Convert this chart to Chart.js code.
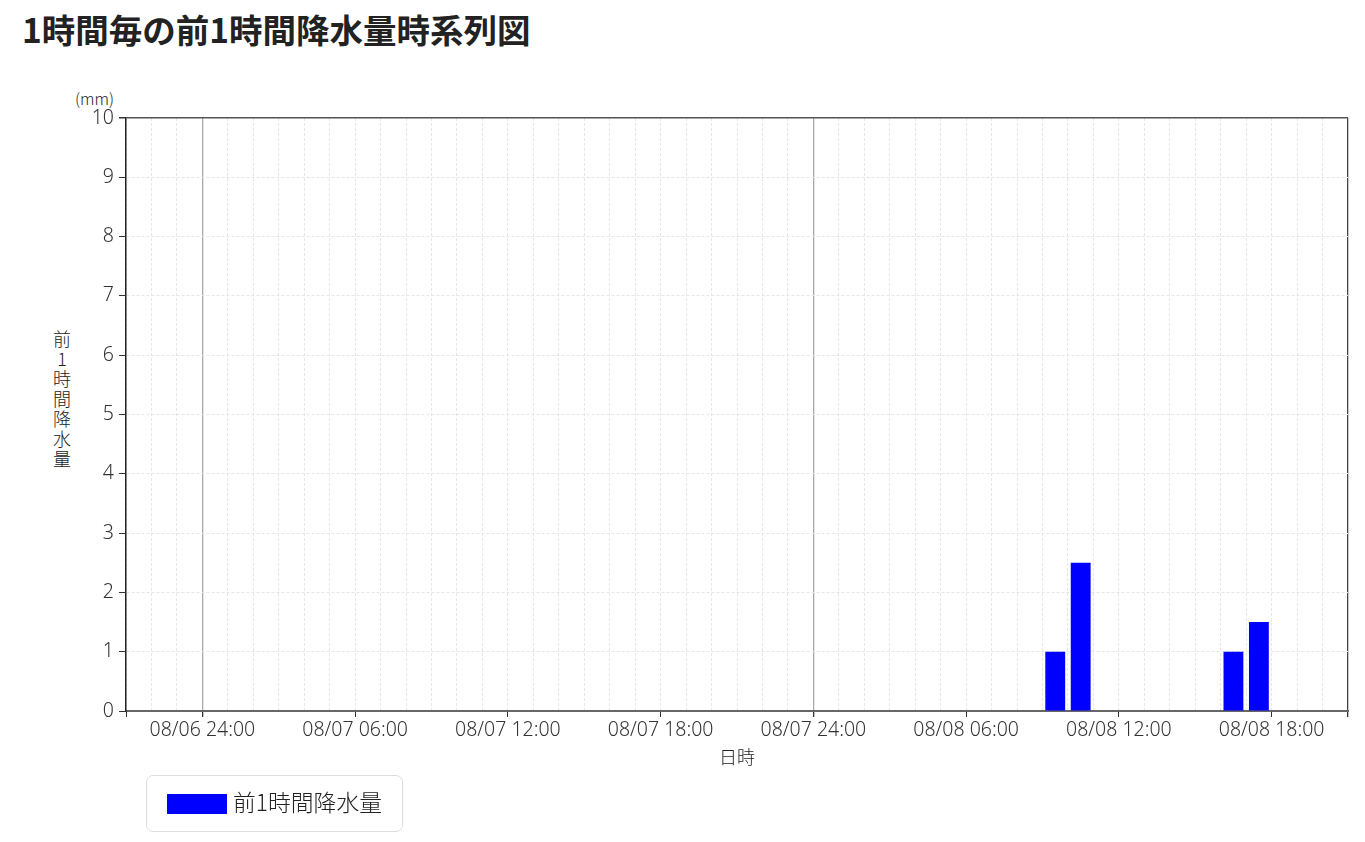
<!DOCTYPE html>
<html lang="ja">
<head>
<meta charset="utf-8">
<script src="https://cdn.jsdelivr.net/npm/chart.js@4/dist/chart.umd.min.js"></script>
<style>
  html, body { margin: 0; padding: 0; background: #fff; }
  body { font-family: "Noto Sans CJK JP", "Noto Sans", sans-serif; color: #222; }
  #wrap { position: relative; width: 1365px; height: 842px; overflow: hidden; }
  #chart { position: absolute; left: 0; top: 0; }
  h1 { position: absolute; left: 22px; top: 4px; margin: 0; font-size: 33.5px; font-weight: bold; color: #222; }
  #unit { position: absolute; left: 75px; top: 86px; font-size: 16px; font-weight: 300; color: #222; }
  #ylabel { position: absolute; left: 52px; top: 330px; writing-mode: vertical-rl; text-orientation: upright; font-size: 18px; font-weight: 300; line-height: 20px; color: #222; letter-spacing: 2px; }
  #legend { position: absolute; left: 146px; top: 775px; width: 257px; height: 57px; border: 1.5px solid #ddd; border-radius: 7px; box-sizing: border-box; }
  #legend .sw { position: absolute; left: 20px; top: 18px; width: 60px; height: 20px; background: #0000ff; }
  #legend .tx { position: absolute; left: 86px; top: 11px; font-size: 22.8px; font-weight: 300; line-height: 30px; color: #222; }
</style>
</head>
<body>
<div id="wrap">
  <h1>1時間毎の前1時間降水量時系列図</h1>
  <div id="unit">(mm)</div>
  <div id="ylabel">前1時間降水量</div>
  <canvas id="chart"></canvas>
  <div id="legend"><span class="sw"></span><span class="tx">前1時間降水量</span></div>
</div>
<script>
// 08/06 21:00 から 1時間ごと48区間（各区間の前1時間降水量）
const startTime = "08/06 21:00";
const rainValues = [
  0, 0, 0, 0, 0, 0, 0, 0, 0, 0, 0, 0,
  0, 0, 0, 0, 0, 0, 0, 0, 0, 0, 0, 0,
  0, 0, 0, 0, 0, 0, 0, 0, 0, 0, 0, 0,
  1.0, 2.5, 0, 0, 0, 0, 0, 1.0, 1.5, 0, 0, 0
];
const xTickLabels = [
  "08/06 24:00", "08/07 06:00", "08/07 12:00", "08/07 18:00",
  "08/07 24:00", "08/08 06:00", "08/08 12:00", "08/08 18:00"
];
const yTicks = [0, 1, 2, 3, 4, 5, 6, 7, 8, 9, 10];
const firstLabelHour = 3; // 08/06 24:00 は開始から3時間後
const dayLineHours = [3, 27];

const hourCount = rainValues.length;
const points = rainValues.map((v, i) => ({ x: i + 0.5, y: v }));
const tickFont = { family: "'Noto Sans', 'Noto Sans CJK JP', sans-serif", size: 19.5, weight: 300 };

function isLabelHour(h) {
  return h >= firstLabelHour && (h - firstLabelHour) % 6 === 0;
}

new Chart(document.getElementById("chart"), {
  type: "bar",
  data: {
    datasets: [{
      label: "前1時間降水量",
      data: points,
      backgroundColor: "#0000ff",
      borderWidth: 0,
      barPercentage: 0.78,
      categoryPercentage: 1.0,
    }],
  },
  options: {
    responsive: true,
    maintainAspectRatio: false,
    animation: false,
    layout: { padding: { top: 118, left: 0, right: 17, bottom: 71 } },
    scales: {
      x: {
        type: "linear",
        min: 0,
        max: hourCount,
        offset: false,
        afterFit: (scale) => { scale.height = 60; },
        ticks: {
          stepSize: 1,
          autoSkip: false,
          maxRotation: 0,
          color: "#333",
          padding: 2,
          font: tickFont,
          callback: function (value) {
            if (isLabelHour(value)) return xTickLabels[(value - firstLabelHour) / 6];
            return "";
          },
        },
        grid: {
          offset: false,
          color: (ctx) => {
            const h = ctx.tick ? ctx.tick.value : -1;
            if (h === hourCount) return "#444";
            if (dayLineHours.includes(h)) return "#aaa";
            return "#e6e6e6";
          },
          lineWidth: (ctx) => {
            const h = ctx.tick ? ctx.tick.value : -1;
            return (h === hourCount || dayLineHours.includes(h)) ? 1.3 : 1;
          },
          tickLength: 6,
          tickColor: (ctx) => {
            const h = ctx.tick ? ctx.tick.value : -1;
            if (h === 0 || h === hourCount || isLabelHour(h)) return "#333";
            return "rgba(0,0,0,0)";
          },
        },
        border: {
          color: "#666",
          width: 2,
          dash: (ctx) => {
            const h = ctx.tick ? ctx.tick.value : -1;
            if (h === hourCount || dayLineHours.includes(h)) return [];
            return [3, 2];
          },
        },
        title: {
          display: true,
          text: "日時",
          color: "#222",
          font: { family: "'Noto Sans CJK JP', sans-serif", size: 18, weight: 300 },
          padding: { top: 0, bottom: 3 },
        },
      },
      y: {
        min: 0,
        max: 10,
        afterFit: (scale) => { scale.width = 126; },
        afterBuildTicks: (scale) => { scale.ticks = yTicks.map((v) => ({ value: v })); },
        ticks: {
          color: "#333",
          padding: 5,
          font: tickFont,
        },
        grid: {
          color: (ctx) => (ctx.tick && ctx.tick.value === 10) ? "#555" : "#e6e6e6",
          lineWidth: (ctx) => (ctx.tick && ctx.tick.value === 10) ? 1.5 : 1,
          tickLength: 7,
          tickColor: "#333",
        },
        border: {
          color: "#222",
          width: 1.5,
          dash: (ctx) => (ctx.tick && ctx.tick.value === 10) ? [] : [3, 2],
        },
      },
    },
    plugins: {
      legend: { display: false },
      title: { display: false },
      tooltip: { enabled: false },
    },
  },
});
</script>
</body>
</html>
